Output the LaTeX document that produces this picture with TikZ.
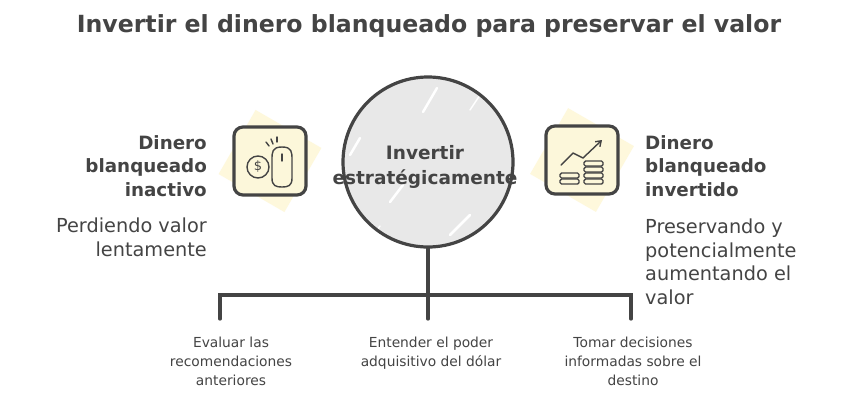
\documentclass[tikz,border=0pt]{standalone}
\usepackage{fontspec}
\setmainfont{DejaVu Sans}
\usetikzlibrary{arrows.meta}
\definecolor{ink}{HTML}{444444}
\definecolor{cream}{HTML}{FCF7DA}
\definecolor{paleyel}{HTML}{FEF8DC}
\definecolor{circfill}{HTML}{E8E8E8}
\tikzset{
  titlefont/.style={font=\fontsize{23.6}{26}\selectfont\bfseries, text=ink},
  headfont/.style={font=\fontsize{18.3}{23.5}\selectfont\bfseries, text=ink},
  circfont/.style={font=\fontsize{18.5}{24.5}\selectfont\bfseries, text=ink},
  descfont/.style={font=\fontsize{19.3}{23.5}\selectfont, text=ink},
  smallfont/.style={font=\fontsize{13.8}{19}\selectfont, text=ink},
  iconbox/.style={draw=ink, line width=3.2pt, fill=cream, rounded corners=9pt, minimum width=72pt, minimum height=68pt},
  iconline/.style={draw=ink, line width=1.4pt, line cap=round, line join=round},
  branch/.style={draw=ink, line width=3.2pt, line cap=round},
  streak/.style={white, line width=2.5pt, line cap=round},
}
\begin{document}
\begin{tikzpicture}[x=1pt,y=-1pt]
\useasboundingbox (0,0) rectangle (858,405);
\fill[white] (0,0) rectangle (858,405);
% title
\node[titlefont, inner sep=0] (title) at (429,26) {Invertir el dinero blanqueado para preservar el valor};
% pale yellow backdrops
\fill[paleyel, rotate around={-30:(270,161)}] (232,124) rectangle (308,198);
\fill[paleyel, rotate around={-30:(582,160)}] (544,122) rectangle (620,198);
% icon boxes
\node[iconbox] (lbox) at (270,161) {};
\node[iconbox] (rbox) at (582,160) {};
% left icon: coin + mouse
\draw[iconline] (258,167) circle (11);
\node[inner sep=0, font=\fontsize{13}{13}\selectfont, text=ink] (dollar) at (258,167) {\$};
\draw[iconline, fill=cream] (282,147) .. controls (292,147) and (292,152) .. (292,160) -- (292,178) .. controls (292,186) and (288,187) .. (282,187) .. controls (276,187) and (272,186) .. (272,178) -- (272,160) .. controls (272,152) and (272,147) .. (282,147) -- cycle;
\draw[iconline] (282,154) -- (282,161);
\draw[iconline] (266,142) -- (269,146);
\draw[iconline] (271,139) -- (273,144);
\draw[iconline] (277,137) -- (277,142);
% right icon: arrow + coin stacks
\draw[iconline, -{Straight Barb[length=5pt,width=7pt]}] (561,165) -- (573,153) -- (583,158) -- (602,140);
\foreach \yy in {173,179} {\draw[iconline, rounded corners=1.5pt] (560,\yy) rectangle (579,\yy+5);}
\foreach \yy in {161,167,173,179} {\draw[iconline, rounded corners=1.5pt] (584,\yy) rectangle (603,\yy+5);}
% central circle
\begin{scope}
\clip (428,162) circle (85);
\fill[circfill] (428,162) circle (85);
\draw[streak] (423,112) -- (437,88);
\draw[streak] (350,155) -- (360,138);
\draw[streak] (390,202) -- (403,185);
\draw[streak] (450,235) -- (470,215);
\draw[streak, line width=1.5pt] (470,110) -- (490,80);
\draw[streak, line width=1.5pt] (372,238) -- (380,226);
\end{scope}
\node[draw=ink, line width=3.2pt, circle, minimum size=170pt, inner sep=0] (circ) at (428,162) {};
\node[circfont, align=center, inner sep=0] (ctext) at (425,167) {Invertir\\estratégicamente};
% branches
\coordinate (hl) at (220,295);
\coordinate (hm) at (428,295);
\coordinate (hr) at (631,295);
\coordinate (dl) at (220,319);
\coordinate (dm) at (428,319);
\coordinate (dr) at (631,319);
\draw[branch] (circ.south) -- (dm);
\draw[branch] (dl) -- (hl) -- (hr) -- (dr);
% side texts
\node[headfont, align=right, anchor=north east, inner sep=0] (lhead) at (207,135) {Dinero\\blanqueado\\inactivo};
\node[descfont, align=right, anchor=north east, inner sep=0] (ldesc) at (207,218) {Perdiendo valor\\lentamente};
\node[headfont, align=left, anchor=north west, inner sep=0] (rhead) at (645,135) {Dinero\\blanqueado\\invertido};
\node[descfont, align=left, anchor=north west, inner sep=0] (rdesc) at (645,219) {Preservando y\\potencialmente\\aumentando el\\valor};
% bottom texts
\node[smallfont, align=center, anchor=north, inner sep=0] (b1) at (231,337) {Evaluar las\\recomendaciones\\anteriores};
\node[smallfont, align=center, anchor=north, inner sep=0] (b2) at (431,337) {Entender el poder\\adquisitivo del dólar};
\node[smallfont, align=center, anchor=north, inner sep=0] (b3) at (633,337) {Tomar decisiones\\informadas sobre el\\destino};
\end{tikzpicture}
\end{document}
